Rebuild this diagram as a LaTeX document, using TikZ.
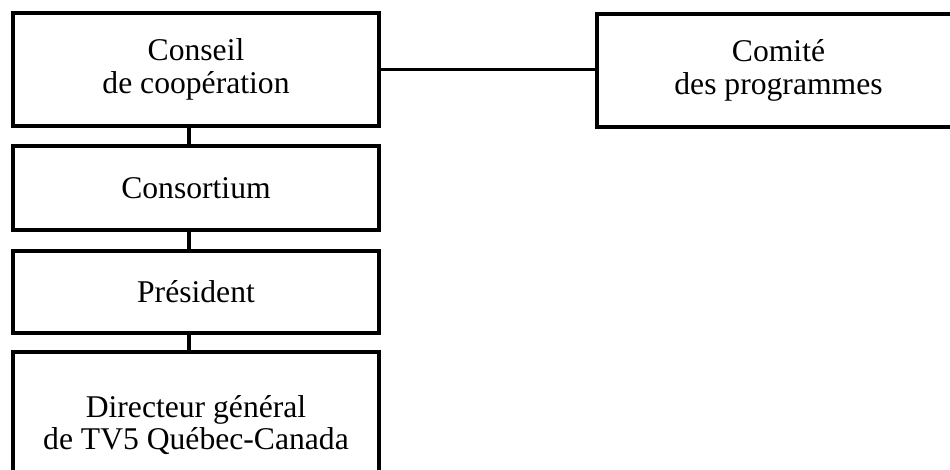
\documentclass[tikz,border=0pt]{standalone}
\usepackage{fontspec}
\setmainfont{Liberation Serif}
\usetikzlibrary{positioning}
\definecolor{Ink}{RGB}{0,0,0}
\tikzset{
  orgbox/.style={draw=Ink,line width=2.5pt,fill=white,align=center,text=Ink,font=\fontsize{18}{18.5}\selectfont,minimum width=7.32cm,inner sep=0pt},
  link/.style={draw=Ink,line width=2.1pt}
}
\begin{document}
\begin{tikzpicture}[x=1cm,y=1cm]
  \useasboundingbox (0,0) rectangle (19,9.38);
  \clip (0,0) rectangle (19,9.38);
  \node[orgbox,minimum height=2.26cm] (conseil) at (3.92,7.99) {Conseil\\de coopération};
  \node[orgbox,minimum width=7.26cm,minimum height=2.26cm] (comite) at (15.57,7.97) {Comité\\des programmes};
  \node[orgbox,minimum height=1.68cm] (consortium) at (3.92,5.62) {Consortium};
  \node[orgbox,minimum height=1.64cm] (president) at (3.92,3.54) {Président};
  \node[orgbox,minimum height=2.92cm] (directeur) at (3.92,0.88) {Directeur général\\de TV5 Québec-Canada};
  \draw[link] (conseil.east) -- (conseil.east -| comite.west);
  \foreach \a/\b in {conseil/consortium,consortium/president,president/directeur}{
    \draw[link] ([xshift=-0.14cm]\a.south) -- ([xshift=-0.14cm]\b.north);
  }
\end{tikzpicture}
\end{document}
